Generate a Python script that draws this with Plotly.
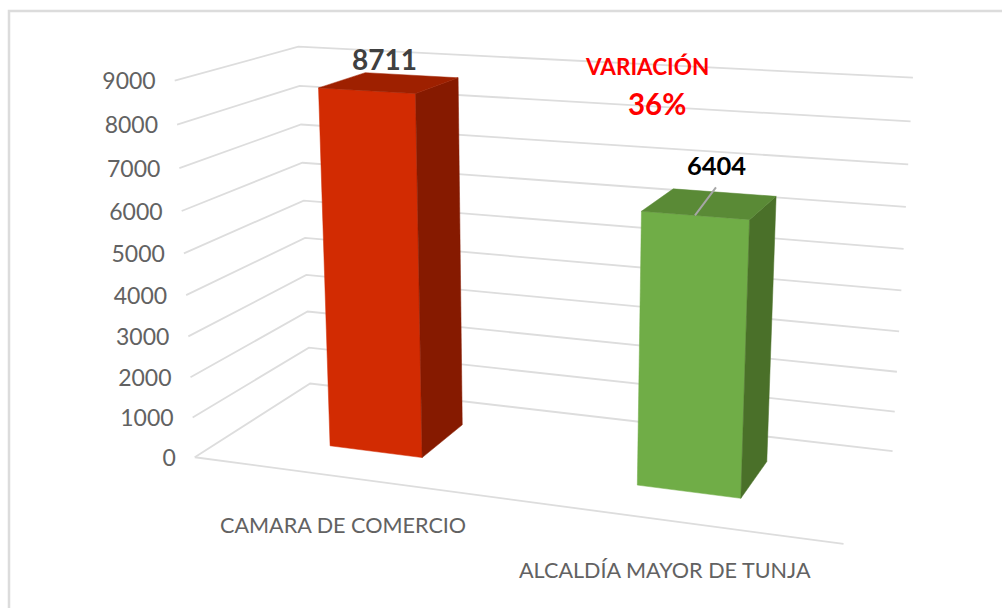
import numpy as np
import plotly.graph_objects as go

# ---- data ----
categories = ["CAMARA DE COMERCIO", "ALCALDÍA MAYOR DE TUNJA"]
values = [8711, 6404]
value_labels = ["8711", "6404"]
ticks = [0, 1000, 2000, 3000, 4000, 5000, 6000, 7000, 8000, 9000]
annotation_title = "VARIACIÓN"
annotation_value = "36%"

# ---- view calibration: where the plot box corners fall on the page ----
box_world = [(0, 0, 0), (1, 0, 0), (1, 1, 0), (0, 1, 0),
             (0, 0, 9000), (0, 1, 9000), (1, 1, 9000)]
box_page = [(195, 457), (843, 545), (893, 450), (310, 384),
            (175, 80), (298, 47), (913, 78)]

def solve_camera(world, page):
    rows = []
    for (x, y, z), (u, v) in zip(world, page):
        z = z / 9000
        rows.append([x, y, z, 1, 0, 0, 0, 0, -u * x, -u * y, -u * z, -u])
        rows.append([0, 0, 0, 0, x, y, z, 1, -v * x, -v * y, -v * z, -v])
    return np.linalg.svd(np.array(rows, float))[2][-1].reshape(3, 4)

P = solve_camera(box_world, box_page)

def project(x, y, z):
    h = P @ np.array([x, y, z / 9000, 1.0])
    return h[0] / h[2], h[1] / h[2]

def path(points):
    xy = [project(*p) for p in points]
    return [p[0] for p in xy], [p[1] for p in xy]

fig = go.Figure()

def add_line(points, color, width):
    xs, ys = path(points)
    fig.add_trace(go.Scatter(x=xs, y=ys, mode="lines", hoverinfo="skip",
                             line=dict(color=color, width=width)))

def add_face(points, color):
    xs, ys = path(points + points[:1])
    fig.add_trace(go.Scatter(x=xs, y=ys, mode="lines", fill="toself", fillcolor=color,
                             hoverinfo="skip", line=dict(color=color, width=0.5)))

GRID = "#DDDDDD"
for t in ticks:
    add_line([(0, 0, t), (0, 1, t), (1, 1, t)], GRID, 1.8)
add_line([(0, 0, 0), (1, 0, 0)], GRID, 1.8)

# ---- bars ----
half_width = 0.078
bar_y = (0.30, 0.715)
colors = [("#D22B02", "#861A00", "#9E2000"), ("#70AD47", "#4A7029", "#5A8A36")]
for i, (v, (front, side, top)) in enumerate(zip(values, colors)):
    cx = (i + 0.5) / len(values)
    x0, x1 = cx - half_width, cx + half_width
    y0, y1 = bar_y
    add_face([(x0, y0, 0), (x1, y0, 0), (x1, y0, v), (x0, y0, v)], front)
    add_face([(x1, y0, 0), (x1, y1, 0), (x1, y1, v), (x1, y0, v)], side)
    add_face([(x0, y0, v), (x1, y0, v), (x1, y1, v), (x0, y1, v)], top)

# ---- texts, placed from the projected positions ----
tick_xy = [project(0, 0, t) for t in ticks]
fig.add_trace(go.Scatter(x=[p[0] - 19 for p in tick_xy], y=[p[1] + 3 for p in tick_xy], mode="text",
                         text=[str(t) for t in ticks], textposition="middle left", hoverinfo="skip",
                         textfont=dict(family="Lato", size=23, color="#626262")))

cat_xy = [(343, 525), (665, 570)]
for (cx, cy), c in zip(cat_xy, categories):
    fig.add_annotation(x=cx, y=cy, text=c, showarrow=False, xanchor="center", yanchor="middle",
                       font=dict(family="Lato", size=21.6, color="#626262"))

fig.add_annotation(x=384, y=59, text=value_labels[0], showarrow=False,
                   font=dict(family="Lato", size=28, color="#404040", weight="bold"))
fig.add_annotation(x=716, y=165, text=value_labels[1], showarrow=False,
                   font=dict(family="Lato", size=25.5, color="#000000", weight="bold"))
fig.add_annotation(x=647, y=66, text=annotation_title, showarrow=False,
                   font=dict(family="Lato", size=22.5, color="#FF0000", weight="bold"))
fig.add_annotation(x=657, y=103, text=annotation_value, showarrow=False,
                   font=dict(family="Lato", size=29.5, color="#FF0000", weight="bold"))

# leader line from the green bar's top to its label
tx, ty = project(0.75, bar_y[0], values[1])
fig.add_trace(go.Scatter(x=[tx, tx + 21], y=[ty, ty - 28], mode="lines", hoverinfo="skip",
                         line=dict(color="#A6A6A6", width=2)))

fig.update_layout(
    width=1002, height=608, margin=dict(l=0, r=0, t=0, b=0),
    paper_bgcolor="#FFFFFF", plot_bgcolor="#FFFFFF", showlegend=False,
    xaxis=dict(range=[0, 1002], visible=False, fixedrange=True),
    yaxis=dict(range=[608, 0], visible=False, fixedrange=True),
    shapes=[dict(type="rect", xref="x", yref="y", x0=9, x1=1040, y0=11, y1=660,
                 line=dict(color="#DCDCDC", width=2.5), layer="below")],
)
fig.write_html("out.html", config={"displayModeBar": False},
               post_script="document.body.style.margin='0';document.body.style.overflow='hidden';")
